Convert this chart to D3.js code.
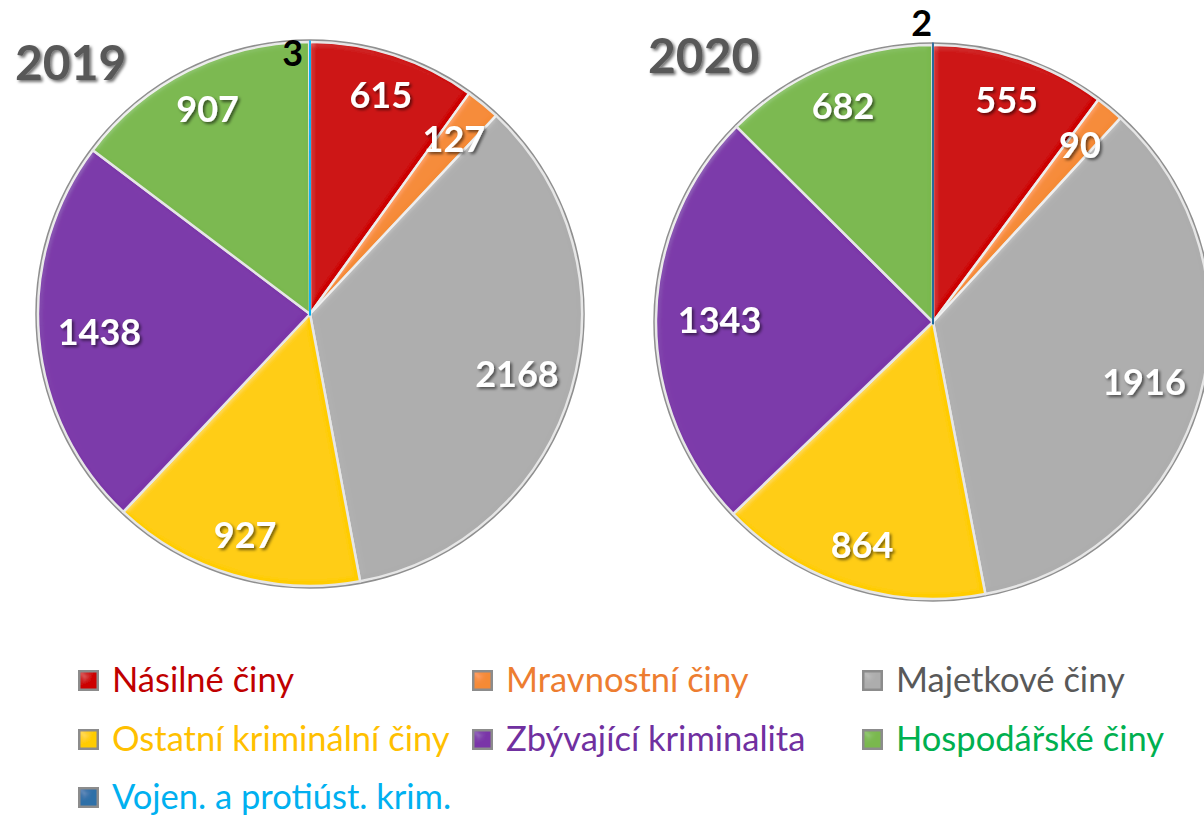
<!DOCTYPE html>
<html>
<head>
<meta charset="utf-8">
<script src="https://cdn.jsdelivr.net/npm/d3@7"></script>
<style>
  body { margin: 0; background: #fff; }
  svg { display: block; font-family: Lato, "Open Sans", sans-serif; }
</style>
</head>
<body>
<div id="chart"></div>
<script>
const categories = ["Násilné činy", "Mravnostní činy", "Majetkové činy",
  "Ostatní kriminální činy", "Zbývající kriminalita", "Hospodářské činy",
  "Vojen. a protiúst. krim."];
const values2019 = [615, 127, 2168, 927, 1438, 907, 3];
const values2020 = [555, 90, 1916, 864, 1343, 682, 2];
const years = ["2019", "2020"];

const sliceColors = ["#cc0000", "#f58a36", "#adadad", "#ffcc00", "#7a35a8", "#7ab84e", "#2a73ad"];
const textColors = ["#c00000", "#ed7d31", "#595959", "#ffc000", "#7030a0", "#00b050", "#00b0f0"];

const width = 1204, height = 815;

const svg = d3.select("#chart").append("svg")
    .attr("width", width)
    .attr("height", height);

const defs = svg.append("defs");

// shadow for labels
const shadow = defs.append("filter").attr("id", "txtShadow")
    .attr("x", "-20%").attr("y", "-20%").attr("width", "140%").attr("height", "140%");
shadow.append("feDropShadow")
    .attr("dx", 2).attr("dy", 2).attr("stdDeviation", 1.5)
    .attr("flood-color", "#000").attr("flood-opacity", 0.55);

// soft bevel on slices
const bevel = defs.append("filter").attr("id", "bevel")
    .attr("x", "-5%").attr("y", "-5%").attr("width", "110%").attr("height", "110%");
bevel.append("feGaussianBlur").attr("in", "SourceAlpha").attr("stdDeviation", 3).attr("result", "blur");
bevel.append("feSpecularLighting").attr("in", "blur").attr("surfaceScale", 3)
    .attr("specularConstant", 0.4).attr("specularExponent", 20)
    .attr("lighting-color", "#ffffff").attr("result", "spec")
    .append("feDistantLight").attr("azimuth", 225).attr("elevation", 35);
bevel.append("feComposite").attr("in", "spec").attr("in2", "SourceAlpha")
    .attr("operator", "in").attr("result", "specIn");
bevel.append("feComposite").attr("in", "SourceGraphic").attr("in2", "specIn")
    .attr("operator", "arithmetic").attr("k1", 0).attr("k2", 1).attr("k3", 0.2).attr("k4", 0);

const pies = [
  { year: years[0], values: values2019, cx: 310, cy: 314, r: 272, tx: 15, ty: 80, blue: "#00b0f0", blueW: 3.5 },
  { year: years[1], values: values2020, cx: 933, cy: 322, r: 277, tx: 648, ty: 73, blue: "#1f6a9a", blueW: 5 }
];

const pie = d3.pie().sort(null).value(d => d);

pies.forEach(p => {
  const g = svg.append("g").attr("transform", `translate(${p.cx},${p.cy})`);
  const arcs = pie(p.values);
  const arc = d3.arc().innerRadius(0).outerRadius(p.r);

  // best-fit-like label radius: further out near top/bottom
  function labelPos(d) {
    const mid = (d.startAngle + d.endAngle) / 2;
    const k = 0.77 + 0.08 * Math.abs(Math.cos(mid));
    return d3.arc().innerRadius(p.r * k).outerRadius(p.r * k).centroid(d);
  }

  // outer rim
  g.append("circle").attr("r", p.r + 1.5)
      .attr("fill", "none").attr("stroke", "#8f8f8f").attr("stroke-width", 2.5);

  g.selectAll("path.slice")
    .data(arcs)
    .enter().append("path")
      .attr("class", "slice")
      .attr("d", arc)
      .attr("fill", (d, i) => i === 6 ? p.blue : sliceColors[i])
      .attr("stroke", (d, i) => i === 6 ? p.blue : "#e6e6e6")
      .attr("stroke-width", (d, i) => i === 6 ? p.blueW : 2.5)
      .attr("stroke-linejoin", "round")
      .attr("filter", "url(#bevel)");

  g.selectAll("text.val")
    .data(arcs)
    .enter().append("text")
      .attr("class", "val")
      .attr("transform", (d, i) => {
        if (i === 6) {
          // tiny slice: label outside the pie top
          const a = d3.arc().innerRadius(p.r * 0.94).outerRadius(p.r * 0.94).centroid(d);
          return p.year === "2019" ? `translate(${a[0] - 17},${a[1] - 5})` : `translate(${a[0] - 11},${-p.r - 22})`;
        }
        const c = labelPos(d);
        return `translate(${c[0]},${c[1]})`;
      })
      .attr("text-anchor", "middle")
      .attr("dy", "0.36em")
      .attr("font-size", 36)
      .attr("font-weight", 700)
      .attr("fill", (d, i) => i === 6 ? "#000" : "#fff")
      .attr("filter", (d, i) => i === 6 ? null : "url(#txtShadow)")
      .text(d => d.data);

  svg.append("text")
      .attr("x", p.tx).attr("y", p.ty)
      .attr("font-size", 48)
      .attr("font-weight", 700)
      .attr("fill", "#595959")
      .attr("filter", "url(#txtShadow)")
      .text(p.year);
});

// legend
const legendPos = [
  [78, 680], [472, 680], [862, 680],
  [78, 739], [472, 739], [862, 739],
  [78, 797]
];
const legendBlue = "#2e6fa8";

const legend = svg.append("g").attr("class", "legend");
const items = legend.selectAll("g.item")
  .data(categories)
  .enter().append("g")
    .attr("class", "item")
    .attr("transform", (d, i) => `translate(${legendPos[i][0]},${legendPos[i][1]})`);

items.append("rect")
    .attr("x", 0).attr("y", -10).attr("width", 21).attr("height", 21)
    .attr("fill", "#8c8c8c");
items.append("rect")
    .attr("x", 2.5).attr("y", -7.5).attr("width", 16).attr("height", 16)
    .attr("fill", (d, i) => i === 6 ? legendBlue : sliceColors[i])
    .attr("filter", "url(#bevel)");

items.append("text")
    .attr("x", 34)
    .attr("dy", "0.36em")
    .attr("font-size", 34.5)
    .attr("fill", (d, i) => textColors[i])
    .text(d => d);
</script>
</body>
</html>
